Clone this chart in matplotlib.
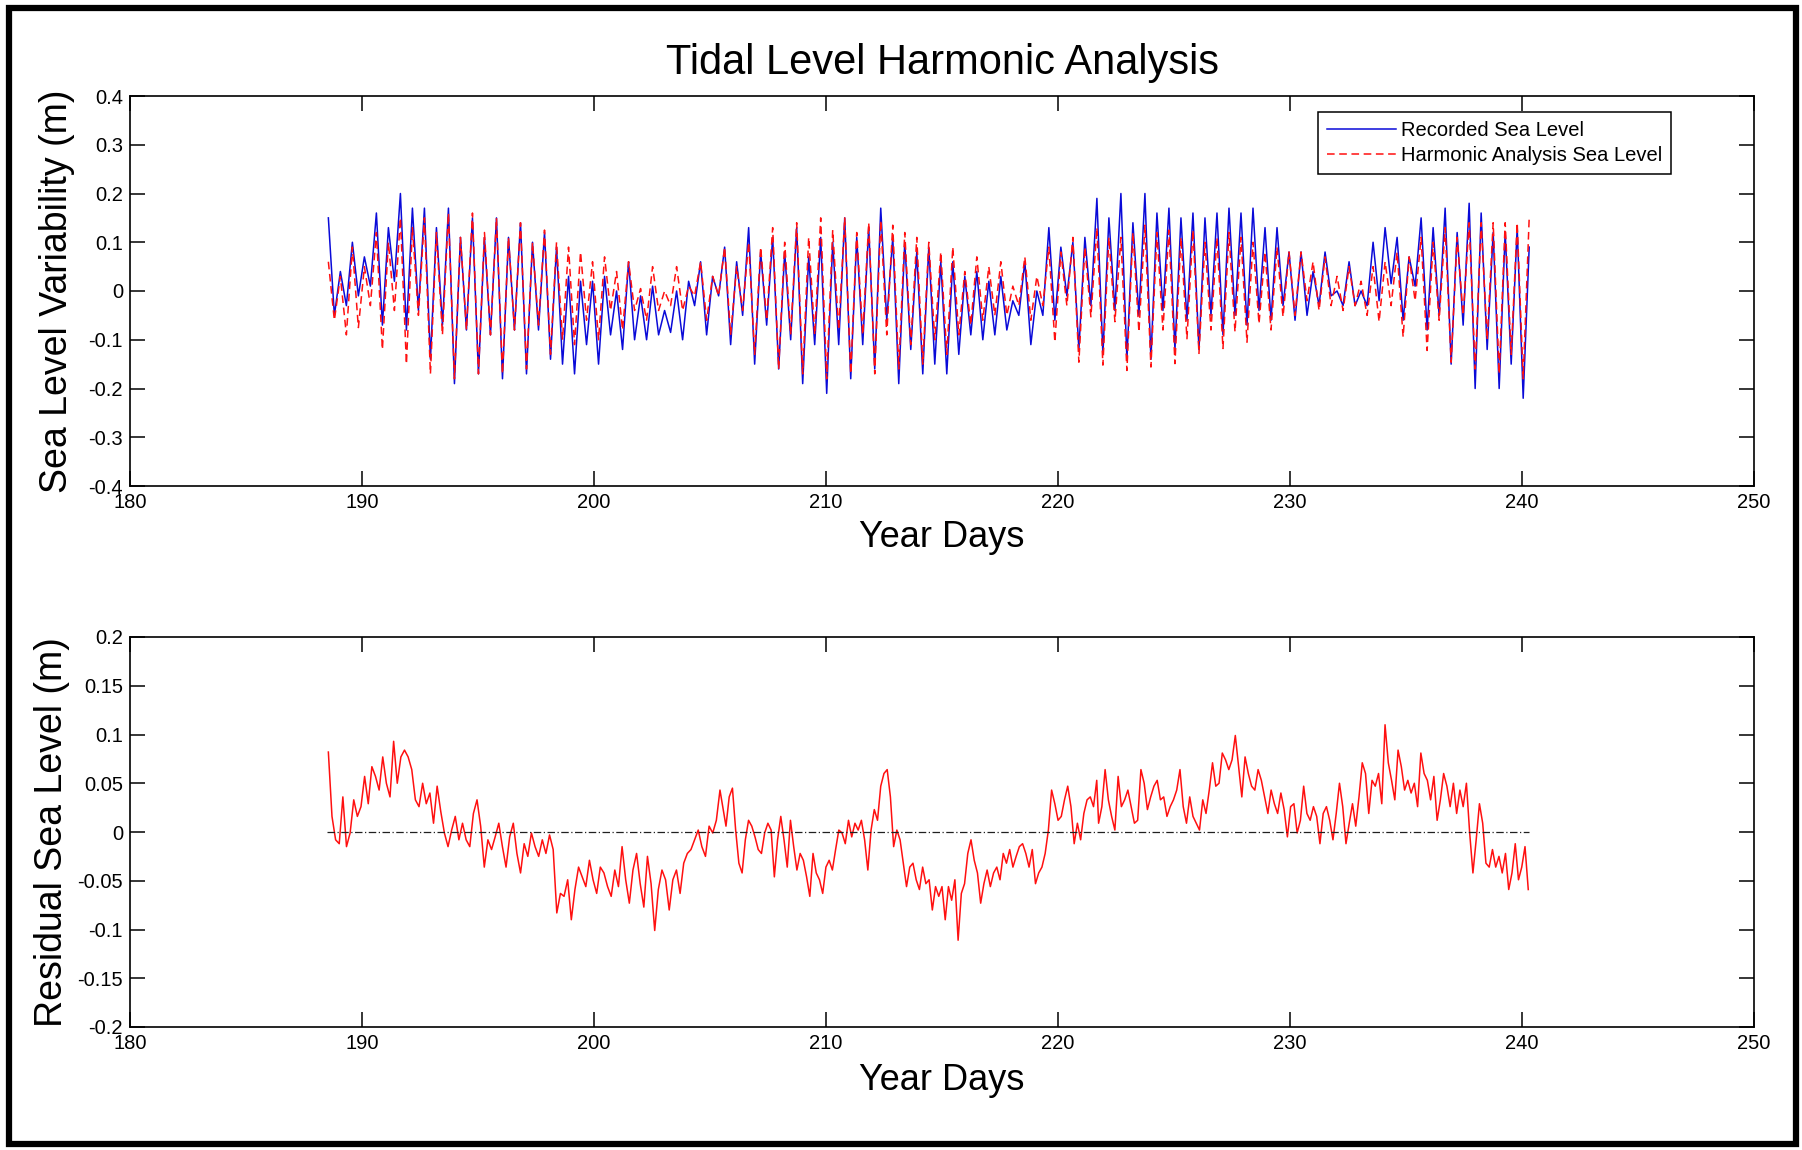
import numpy as np
import matplotlib
matplotlib.use("Agg")
import matplotlib.pyplot as plt
from matplotlib.patches import Rectangle

plt.rcParams['font.family'] = ['Liberation Sans', 'DejaVu Sans']
plt.rcParams['axes.unicode_minus'] = False

# ---------------- data ----------------
# Tidal extremes: one high and the following low per semi-diurnal cycle
tide_start_day = 188.55
tide_half_cycle = 0.2588   # days between successive high / low

recorded_high = [0.15, 0.04, 0.10, 0.07, 0.16, 0.13, 0.20, 0.17, 0.17, 0.13,
                 0.17, 0.11, 0.15, 0.11, 0.15, 0.11, 0.14, 0.10, 0.12, 0.09,
                 0.03, 0.02, 0.02, 0.03, 0.00, 0.06, -0.01, 0.01, -0.04, 0.00,
                 0.02, 0.06, 0.03, 0.09, 0.06, 0.13, 0.08, 0.11, 0.08, 0.13,
                 0.07, 0.11, 0.10, 0.15, 0.11, 0.13, 0.17, 0.11, 0.10, 0.08,
                 0.09, 0.06, 0.06, 0.03, 0.04, 0.02, 0.03, -0.02, 0.06, 0.00,
                 0.13, 0.09, 0.10, 0.11, 0.19, 0.15, 0.20, 0.14, 0.20, 0.16,
                 0.17, 0.15, 0.16, 0.15, 0.16, 0.17, 0.16, 0.17, 0.13, 0.13,
                 0.08, 0.08, 0.04, 0.08, 0.00, 0.06, 0.00, 0.10, 0.13, 0.11,
                 0.07, 0.15, 0.13, 0.17, 0.12, 0.18, 0.16, 0.12, 0.12, 0.13,
                 0.09]
recorded_low = [-0.05, -0.03, -0.01, 0.01, -0.07, 0.02, -0.08, -0.04, -0.14, -0.07,
                -0.19, -0.08, -0.17, -0.09, -0.18, -0.08, -0.17, -0.08, -0.14, -0.15,
                -0.17, -0.11, -0.15, -0.09, -0.12, -0.10, -0.10, -0.09, -0.085, -0.10,
                -0.03, -0.09, -0.01, -0.11, -0.05, -0.15, -0.07, -0.16, -0.10, -0.19,
                -0.11, -0.21, -0.11, -0.18, -0.11, -0.16, -0.06, -0.19, -0.12, -0.17,
                -0.15, -0.17, -0.13, -0.09, -0.10, -0.09, -0.08, -0.05, -0.11, -0.05,
                -0.06, -0.01, -0.12, -0.03, -0.13, -0.04, -0.14, -0.05, -0.14, -0.04,
                -0.12, -0.06, -0.12, -0.05, -0.09, -0.05, -0.07, -0.04, -0.06, -0.03,
                -0.06, -0.05, -0.03, -0.01, -0.03, -0.03, -0.03, -0.02, 0.015, -0.06,
                0.01, -0.08, -0.05, -0.15, -0.07, -0.20, -0.12, -0.20, -0.15, -0.22]

harmonic_high = [0.06, 0.03, 0.09, 0.05, 0.12, 0.10, 0.15, 0.13, 0.15, 0.12,
                 0.16, 0.11, 0.16, 0.12, 0.15, 0.11, 0.14, 0.10, 0.125, 0.10,
                 0.09, 0.08, 0.06, 0.07, 0.04, 0.06, 0.005, 0.05, 0.00, 0.05,
                 0.01, 0.06, 0.03, 0.09, 0.05, 0.10, 0.09, 0.13, 0.10, 0.14,
                 0.11, 0.15, 0.125, 0.15, 0.12, 0.14, 0.145, 0.135, 0.12, 0.11,
                 0.10, 0.08, 0.09, 0.04, 0.07, 0.05, 0.06, 0.01, 0.07, 0.03,
                 0.09, 0.08, 0.11, 0.09, 0.13, 0.11, 0.11, 0.12, 0.135, 0.12,
                 0.125, 0.11, 0.125, 0.10, 0.11, 0.12, 0.11, 0.10, 0.08, 0.09,
                 0.08, 0.08, 0.06, 0.07, 0.03, 0.05, 0.02, 0.05, 0.06, 0.08,
                 0.07, 0.11, 0.10, 0.13, 0.11, 0.14, 0.14, 0.14, 0.14, 0.14,
                 0.15]
harmonic_low = [-0.06, -0.09, -0.075, -0.03, -0.12, -0.04, -0.15, -0.05, -0.17, -0.09,
                -0.18, -0.08, -0.17, -0.09, -0.17, -0.08, -0.16, -0.07, -0.13, -0.10,
                -0.11, -0.06, -0.10, -0.04, -0.08, -0.04, -0.06, -0.04, -0.03, -0.04,
                -0.01, -0.06, -0.01, -0.09, -0.04, -0.13, -0.06, -0.16, -0.09, -0.17,
                -0.09, -0.18, -0.08, -0.17, -0.09, -0.17, -0.09, -0.16, -0.11, -0.15,
                -0.10, -0.13, -0.09, -0.07, -0.06, -0.05, -0.05, -0.03, -0.06, -0.03,
                -0.105, -0.03, -0.146, -0.053, -0.152, -0.063, -0.163, -0.084, -0.156, -0.08,
                -0.149, -0.098, -0.128, -0.08, -0.118, -0.084, -0.105, -0.067, -0.08, -0.053,
                -0.05, -0.02, -0.04, -0.03, -0.04, -0.03, -0.05, -0.063, -0.03, -0.094,
                -0.02, -0.122, -0.06, -0.146, -0.05, -0.16, -0.10, -0.17, -0.13, -0.18]

# Residual sea level, three traced stretches (start day, end day, values)
residual_a_days = (188.55, 205.43)
residual_a = [0.082, 0.016, -0.008, -0.012, 0.036, -0.015, -0.001, 0.033, 0.016, 0.026,
              0.057, 0.029, 0.067, 0.057, 0.043, 0.077, 0.050, 0.036, 0.093, 0.050,
              0.077, 0.084, 0.077, 0.064, 0.033, 0.026, 0.050, 0.029, 0.040, 0.009,
              0.047, 0.021, -0.001, -0.015, 0.002, 0.016, -0.008, 0.009, -0.008, -0.015,
              0.019, 0.033, 0.006, -0.036, -0.008, -0.018, -0.005, 0.009, -0.015, -0.036,
              -0.005, 0.009, -0.022, -0.042, -0.012, -0.025, -0.001, -0.015, -0.025, -0.008,
              -0.022, -0.003, -0.018, -0.083, -0.063, -0.066, -0.049, -0.090, -0.059, -0.036,
              -0.046, -0.056, -0.029, -0.049, -0.063, -0.036, -0.042, -0.056, -0.066, -0.039,
              -0.056, -0.015, -0.049, -0.073, -0.039, -0.022, -0.053, -0.077, -0.025, -0.053,
              -0.101, -0.059, -0.039, -0.049, -0.080, -0.049, -0.039, -0.063, -0.032, -0.022,
              -0.018, -0.008, 0.002, -0.015, -0.025, 0.006, -0.001, 0.012, 0.043]
residual_b_days = (205.55, 221.67)
residual_b = [0.026, 0.006, 0.036, 0.045, 0.002, -0.032, -0.042, -0.008, 0.012, 0.006,
              -0.005, -0.018, -0.022, -0.001, 0.009, 0.002, -0.046, -0.008, 0.016, -0.008,
              -0.036, 0.012, -0.015, -0.039, -0.022, -0.029, -0.046, -0.066, -0.022, -0.042,
              -0.049, -0.063, -0.036, -0.029, -0.039, -0.018, 0.002, -0.001, -0.012, 0.012,
              -0.005, 0.009, 0.002, 0.012, -0.008, -0.039, 0.002, 0.023, 0.012, 0.047,
              0.060, 0.064, 0.036, -0.015, 0.002, -0.008, -0.032, -0.056, -0.036, -0.032,
              -0.049, -0.059, -0.036, -0.053, -0.049, -0.080, -0.056, -0.066, -0.056, -0.090,
              -0.056, -0.070, -0.049, -0.111, -0.063, -0.053, -0.022, -0.008, -0.029, -0.042,
              -0.073, -0.053, -0.039, -0.056, -0.042, -0.036, -0.049, -0.022, -0.032, -0.018,
              -0.036, -0.025, -0.015, -0.012, -0.022, -0.036, -0.018, -0.053, -0.042, -0.036,
              -0.022, 0.002, 0.043, 0.029, 0.012, 0.016, 0.033, 0.047, 0.026, -0.012,
              0.009, -0.008, 0.019, 0.033, 0.036, 0.026, 0.053]
residual_c_days = (221.75, 240.27)
residual_c = [0.009, 0.026, 0.064, 0.033, 0.016, 0.002, 0.057, 0.026, 0.033, 0.043,
              0.026, 0.009, 0.012, 0.064, 0.050, 0.023, 0.036, 0.047, 0.053, 0.033,
              0.036, 0.016, 0.026, 0.033, 0.043, 0.064, 0.026, 0.009, 0.036, 0.016,
              0.009, 0.002, 0.033, 0.019, 0.043, 0.071, 0.047, 0.050, 0.081, 0.074,
              0.064, 0.074, 0.099, 0.067, 0.036, 0.077, 0.060, 0.047, 0.043, 0.064,
              0.053, 0.036, 0.019, 0.043, 0.029, 0.019, 0.040, 0.023, -0.005, 0.026,
              0.029, -0.001, 0.012, 0.047, 0.019, 0.012, 0.026, 0.016, -0.012, 0.019,
              0.026, 0.012, -0.008, 0.019, 0.050, 0.026, -0.012, 0.009, 0.029, 0.006,
              0.036, 0.071, 0.060, 0.019, 0.053, 0.047, 0.060, 0.029, 0.110, 0.071,
              0.053, 0.033, 0.084, 0.067, 0.043, 0.053, 0.040, 0.050, 0.026, 0.081,
              0.060, 0.053, 0.033, 0.057, 0.012, 0.033, 0.060, 0.047, 0.026, 0.050,
              0.019, 0.043, 0.026, 0.050, -0.001, -0.042, -0.008, 0.029, 0.009, -0.032,
              -0.036, -0.018, -0.036, -0.025, -0.042, -0.022, -0.059, -0.042, -0.012, -0.049,
              -0.036, -0.015, -0.059]
zero_line_days = (188.5, 240.3)

x_ticks = [180, 190, 200, 210, 220, 230, 240, 250]
top_y_ticks = [-0.4, -0.3, -0.2, -0.1, 0, 0.1, 0.2, 0.3, 0.4]
top_y_labels = ['-0.4', '-0.3', '-0.2', '-0.1', '0', '0.1', '0.2', '0.3', '0.4']
bot_y_ticks = [-0.2, -0.15, -0.1, -0.05, 0, 0.05, 0.1, 0.15, 0.2]
bot_y_labels = ['-0.2', '-0.15', '-0.1', '-0.05', '0', '0.05', '0.1', '0.15', '0.2']

title_text = 'Tidal Level Harmonic Analysis'
legend_labels = ['Recorded Sea Level', 'Harmonic Analysis Sea Level']

# ---------------- build series ----------------
def interleave(highs, lows):
    out = []
    for i, h in enumerate(highs):
        out.append(h)
        if i < len(lows):
            out.append(lows[i])
    return np.array(out)

rec = interleave(recorded_high, recorded_low)
har = interleave(harmonic_high, harmonic_low)
t_tide = tide_start_day + tide_half_cycle * np.arange(len(rec))

t_res = np.concatenate([np.linspace(*residual_a_days, len(residual_a)),
                        np.linspace(*residual_b_days, len(residual_b)),
                        np.linspace(*residual_c_days, len(residual_c))])
res = np.array(residual_a + residual_b + residual_c)

# ---------------- figure ----------------
W, H = 1802, 1150
fig = plt.figure(figsize=(W / 100, H / 100), dpi=100)
fig.patch.set_facecolor('white')

def px_axes(l, t, r, b):
    return [l / W, 1 - b / H, (r - l) / W, (b - t) / H]

ax1 = fig.add_axes(px_axes(130, 96, 1754, 486))
ax2 = fig.add_axes(px_axes(130, 637, 1754, 1027))

blue = '#0a0ad8'
red = '#ff1010'

ax1.plot(t_tide, rec, color=blue, lw=1.1, label=legend_labels[0])
ax1.plot(t_tide, har, color=red, lw=1.1, dashes=(5, 3), label=legend_labels[1])

ax2.plot(t_res, res, color=red, lw=1.1)
ax2.plot(zero_line_days, [0, 0], color='#202020', lw=0.9, linestyle=(0, (6, 2, 1, 2)))

tick_fs = 14.5
for ax, yt, yl, ylim in [(ax1, top_y_ticks, top_y_labels, (-0.4, 0.4)),
                         (ax2, bot_y_ticks, bot_y_labels, (-0.2, 0.2))]:
    ax.set_xlim(180, 250)
    ax.set_ylim(*ylim)
    ax.set_xticks(x_ticks)
    ax.set_xticklabels([str(v) for v in x_ticks])
    ax.set_yticks(yt)
    ax.set_yticklabels(yl)
    ax.tick_params(direction='in', length=11, width=1.1, top=True, right=True,
                   labelsize=tick_fs, pad=5, colors='black')
    for s in ax.spines.values():
        s.set_linewidth(1.2)
        s.set_color('black')

fig.text(942 / W, 1 - 63 / H, title_text, ha='center', va='center', fontsize=30)
fig.text(942 / W, 1 - 537 / H, 'Year Days', ha='center', va='center', fontsize=26)
fig.text(942 / W, 1 - 1080 / H, 'Year Days', ha='center', va='center', fontsize=26)
fig.text(57 / W, 1 - 291 / H, 'Sea Level Variability (m)', ha='center', va='center',
         rotation=90, fontsize=27)
fig.text(52 / W, 1 - 832 / H, 'Residual Sea Level (m)', ha='center', va='center',
         rotation=90, fontsize=27)

leg = ax1.legend(loc='upper right', bbox_to_anchor=((1671 - 130) / 1624, (486 - 112) / 390),
                 borderaxespad=0, fontsize=14.5, handlelength=3.4, handletextpad=0.25,
                 labelspacing=0.3, borderpad=0.45, fancybox=False, framealpha=1,
                 edgecolor='black')
leg.get_frame().set_linewidth(1.1)

# outer black frame
fig.patches.append(Rectangle((9 / W, 6 / H), (W - 15) / W, (H - 14) / H,
                             transform=fig.transFigure, fill=False, lw=4.5,
                             edgecolor='black'))

fig.savefig('out.png', dpi=100)
